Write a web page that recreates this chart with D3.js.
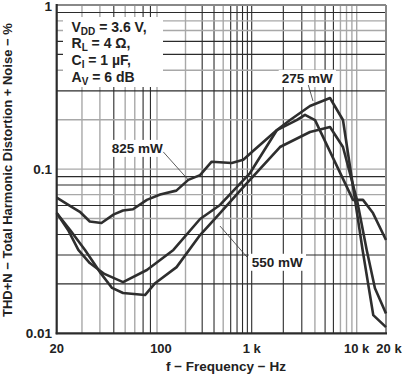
<!DOCTYPE html>
<html>
<head>
<meta charset="utf-8">
<script src="https://cdn.jsdelivr.net/npm/d3@7"></script>
<style>
  body { margin: 0; background: #fff; }
  text { font-family: 'Liberation Sans', Arial, sans-serif; font-weight: bold; fill: #222; }
</style>
</head>
<body>
<script>
const width = 403;
const height = 375;

// THD+N curves (frequency in Hz, THD+N in %)
const freq825 = [20, 25.4, 29, 34, 41, 50, 58, 68, 85, 108, 160, 214, 285, 378, 615, 815, 1030, 1740, 2680, 3220, 4010, 9220, 11600, 14700, 20000];
const thd825  = [0.067, 0.059, 0.055, 0.048, 0.047, 0.053, 0.056, 0.057, 0.065, 0.070, 0.074, 0.086, 0.092, 0.111, 0.109, 0.114, 0.129, 0.173, 0.199, 0.214, 0.199, 0.065, 0.065, 0.054, 0.037];

const freq550 = [20, 24.8, 31.5, 40, 48.6, 58, 82.5, 97, 161, 285, 463, 815, 1860, 3590, 5570, 7400, 10070, 12670, 15400, 20000];
const thd550  = [0.054, 0.0426, 0.0322, 0.0236, 0.0189, 0.0176, 0.0171, 0.0202, 0.0253, 0.0397, 0.054, 0.0778, 0.1364, 0.1684, 0.1806, 0.1364, 0.0649, 0.0322, 0.0188, 0.0132];

const freq275 = [20, 24, 28.3, 34, 43, 58, 85, 149, 285, 463, 960, 1740, 2320, 3590, 5570, 7400, 11500, 14800, 20000];
const thd275  = [0.054, 0.0426, 0.0322, 0.0268, 0.0230, 0.0205, 0.0243, 0.0322, 0.0497, 0.0605, 0.0947, 0.1732, 0.1993, 0.2425, 0.2713, 0.1993, 0.0322, 0.0129, 0.0109];

const xTicks = [20, 100, 1000, 10000, 20000];
const xTickLabels = ['20', '100', '1 k', '10 k', '20 k'];
const yTicks = [0.01, 0.1, 1];
const yTickLabels = ['0.01', '0.1', '1'];

const xGrid = [30, 40, 50, 60, 70, 80, 90, 100, 200, 300, 400, 500, 600, 700, 800, 900, 1000,
               2000, 3000, 4000, 5000, 6000, 7000, 8000, 9000, 10000];
const xGridLight = [30, 40, 60, 70, 100, 200, 500, 4000, 7000, 8000, 9000, 10000];
const yGrid = [0.02, 0.03, 0.04, 0.05, 0.06, 0.07, 0.08, 0.09, 0.1, 0.2, 0.3, 0.4, 0.5, 0.6, 0.7, 0.8, 0.9];
const yGridLight = [0.05, 0.07, 0.1, 0.2, 0.4, 0.7, 0.8];

const legendLines = [
  ['V', 'DD', ' = 3.6 V,'],
  ['R', 'L', ' = 4 \u03A9,'],
  ['C', 'I', ' = 1 \u00B5F,'],
  ['A', 'V', ' = 6 dB']
];

const plot = {left: 56.7, right: 386, top: 5, bottom: 333.3};

// the printed grid is not a clean log axis, so pin each decade where it is drawn
const x = d3.scaleLog()
  .domain([20, 100, 1000, 10000, 20000])
  .range([plot.left, 157, 251.7, 356.7, plot.right]);

const y = d3.scaleLog()
  .domain([0.01, 1])
  .range([plot.bottom, plot.top]);

const dark = '#2b2b2b';
const light = '#a8a8a8';

const svg = d3.select('body').append('svg')
  .attr('width', width)
  .attr('height', height);

// grid
const gGrid = svg.append('g').attr('class', 'grid');
gGrid.selectAll('line.vx')
  .data(xGrid)
  .enter().append('line')
  .attr('class', 'vx')
  .attr('x1', d => x(d)).attr('x2', d => x(d))
  .attr('y1', plot.top).attr('y2', plot.bottom)
  .attr('stroke', d => xGridLight.includes(d) ? light : dark)
  .attr('stroke-width', d => xGridLight.includes(d) ? 1.4 : 1.1);

gGrid.selectAll('line.hy')
  .data(yGrid)
  .enter().append('line')
  .attr('class', 'hy')
  .attr('x1', plot.left).attr('x2', plot.right)
  .attr('y1', d => y(d)).attr('y2', d => y(d))
  .attr('stroke', d => yGridLight.includes(d) ? light : dark)
  .attr('stroke-width', d => yGridLight.includes(d) ? 1.4 : 1.1);

// frame: top/right light, left/bottom dark
svg.append('line').attr('x1', plot.left).attr('x2', plot.right).attr('y1', plot.top).attr('y2', plot.top)
  .attr('stroke', '#888').attr('stroke-width', 2);
svg.append('line').attr('x1', plot.right).attr('x2', plot.right).attr('y1', plot.top).attr('y2', plot.bottom)
  .attr('stroke', '#888').attr('stroke-width', 2);
svg.append('line').attr('x1', plot.left).attr('x2', plot.left).attr('y1', plot.top - 1).attr('y2', plot.bottom + 1)
  .attr('stroke', dark).attr('stroke-width', 2.2);
svg.append('line').attr('x1', plot.left - 1).attr('x2', plot.right + 1).attr('y1', plot.bottom).attr('y2', plot.bottom)
  .attr('stroke', dark).attr('stroke-width', 2.2);

// legend box
svg.append('rect')
  .attr('x', 63).attr('y', 17)
  .attr('width', 100).attr('height', 70)
  .attr('fill', '#fff');

const legend = svg.append('g').attr('class', 'legend');
legendLines.forEach((l, i) => {
  const t = legend.append('text')
    .attr('x', 71.5)
    .attr('y', 31.5 + i * 16.7)
    .attr('font-size', 14);
  t.append('tspan').text(l[0]);
  t.append('tspan').attr('font-size', 10).attr('dy', 3).text(l[1]);
  t.append('tspan').attr('dy', -3).text(l[2]);
});

// curves
const line = d3.line()
  .x(d => x(d[0]))
  .y(d => y(d[1]));

const series = [
  d3.zip(freq825, thd825),
  d3.zip(freq550, thd550),
  d3.zip(freq275, thd275)
];

const annotations = [
  {label: '825 mW', at: [214, 0.086], tx: -76.6, ty: -27, lx: -25, ly: -28},
  {label: '275 mW', at: [3836, 0.26], tx: -31.3, ty: -18, lx: -4.7, ly: -16},
  {label: '550 mW', at: [463, 0.045], tx: 31.7, ty: 40.7, lx: 27, ly: 31}
];

const gAnn = svg.append('g').attr('class', 'annotations');
annotations.forEach(a => {
  const px = x(a.at[0]), py = y(a.at[1]);
  const bg = gAnn.append('rect').attr('fill', '#fff');
  const t = gAnn.append('text')
    .attr('x', px + a.tx)
    .attr('y', py + a.ty)
    .attr('font-size', 13.5)
    .text(a.label);
  const bb = t.node().getBBox();
  bg.attr('x', bb.x - 3).attr('y', bb.y - 1)
    .attr('width', bb.width + 6).attr('height', bb.height + 2);
});

svg.append('g').attr('class', 'curves')
  .selectAll('path')
  .data(series)
  .enter().append('path')
  .attr('d', line)
  .attr('fill', 'none')
  .attr('stroke', '#2e2e2e')
  .attr('stroke-width', 2.6)
  .attr('stroke-linejoin', 'round');

annotations.forEach(a => {
  const px = x(a.at[0]), py = y(a.at[1]);
  gAnn.append('line')
    .attr('x1', px + a.lx).attr('y1', py + a.ly)
    .attr('x2', px).attr('y2', py)
    .attr('stroke', '#333').attr('stroke-width', 0.8);
});

// tick labels
svg.append('g').selectAll('text')
  .data(xTicks)
  .enter().append('text')
  .attr('x', (d, i) => x(d) + (i === xTicks.length - 1 ? 3 : (i === 1 ? 4 : 0)))
  .attr('y', 353)
  .attr('text-anchor', 'middle')
  .attr('font-size', 13)
  .text((d, i) => xTickLabels[i]);

svg.append('g').selectAll('text')
  .data(yTicks)
  .enter().append('text')
  .attr('x', 52)
  .attr('y', d => Math.max(y(d), 6))
  .attr('dy', '0.35em')
  .attr('text-anchor', 'end')
  .attr('font-size', 13.5)
  .text((d, i) => yTickLabels[i]);

// axis titles
svg.append('text')
  .attr('x', 226)
  .attr('y', 371)
  .attr('text-anchor', 'middle')
  .attr('font-size', 13.5)
  .text('f \u2212 Frequency \u2212 Hz');

svg.append('text')
  .attr('transform', `translate(12, ${(plot.top + plot.bottom) / 2 + 1}) rotate(-90)`)
  .attr('text-anchor', 'middle')
  .attr('font-size', 13)
  .text('THD+N \u2212 Total Harmonic Distortion + Noise \u2212 %');
</script>
</body>
</html>
